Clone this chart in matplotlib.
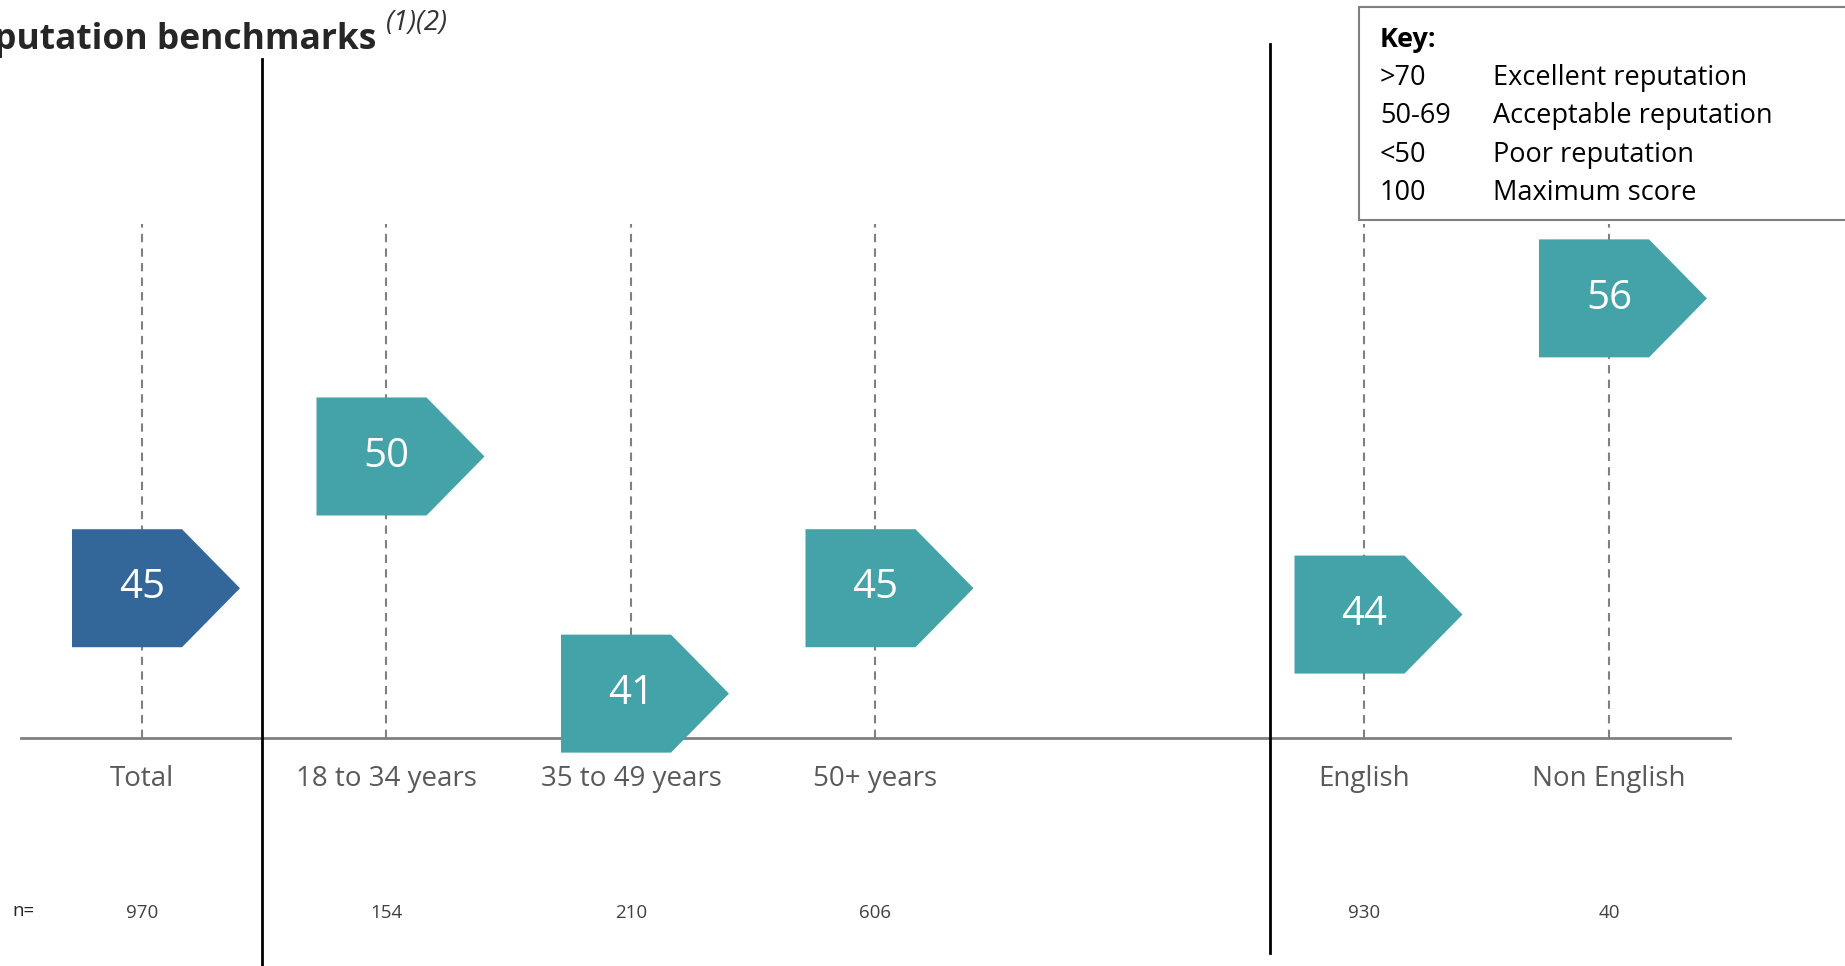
import matplotlib
matplotlib.use('Agg')
import matplotlib.pyplot as plt
from matplotlib.patches import Polygon, Rectangle

plt.rcParams['font.family'] = ['Open Sans', 'DejaVu Sans']

# reputation scores by segment
categories = ['Total', '18 to 34 years', '35 to 49 years', '50+ years', 'English', 'Non English']
scores = [45, 50, 41, 45, 44, 56]
sample_sizes = [970, 154, 210, 606, 930, 40]

key_ranges = ['>70', '50-69', '<50', '100']
key_labels = ['Excellent reputation', 'Acceptable reputation', 'Poor reputation', 'Maximum score']

# layout: slot index of each segment (gap between age and language groups)
slots = [0, 1, 2, 3, 5, 6]
box_colors = ['#336699'] + ['#43A3A8'] * 5

W, H = 1845, 966
X0, DX = 142.0, 244.5          # pixel of slot 0, pixels per slot
Y_MID, V_MID, DY = 540.0, 46.83, 26.35   # pixel of V_MID, pixels per point


def px_x(px):
    return (px - X0) / DX


def px_y(py):
    return V_MID + (Y_MID - py) / DY


def fx(px):
    return px / W


def fy(py):
    return 1 - py / H


fig = plt.figure(figsize=(W / 100, H / 100), dpi=100)
ax = fig.add_axes([0, 0, 1, 1])
ax.set_xlim(px_x(0), px_x(W))
ax.set_ylim(px_y(H), px_y(0))
ax.axis('off')

base = px_y(738)
top = px_y(224)

# baseline and dashed guides
ax.plot([px_x(21), px_x(1730)], [base, base], color='#808080', lw=2, zorder=1)
for s in slots:
    ax.plot([s, s], [base, top], color='#808080', lw=1.5,
            linestyle=(0, (4, 3)), zorder=1)

# group separators
ax.plot([px_x(262), px_x(262)], [px_y(59), px_y(970)], color='black', lw=2, zorder=1)
ax.plot([px_x(1270), px_x(1270)], [px_y(44), px_y(953)], color='black', lw=2, zorder=1)

# arrow-shaped score boxes
left, right, tip = 70 / DX, 40 / DX, 98 / DX
half = 59 / DY
for s, v, c in zip(slots, scores, box_colors):
    pts = [(s - left, v - half), (s + right, v - half), (s + tip, v),
           (s + right, v + half), (s - left, v + half)]
    ax.add_patch(Polygon(pts, closed=True, facecolor=c, edgecolor='none', zorder=3))
    ax.text(s, v, str(v), ha='center', va='center', color='white',
            fontsize=29, zorder=4)

# category labels and sample sizes
for s, cat, n in zip(slots, categories, sample_sizes):
    ax.text(s, px_y(779), cat, ha='center', va='center', color='#595959', fontsize=20)
    ax.text(s, px_y(913), str(n), ha='center', va='center', color='#404040', fontsize=13.5)
fig.text(fx(12), fy(911), 'n=', ha='left', va='center', color='#262626', fontsize=13.5)

# title (runs off the left edge of the page)
fig.text(fx(376), fy(49), 'Reputation benchmarks', ha='right', va='baseline',
         fontsize=25.5, fontweight='bold', color='#262626')
fig.text(fx(386), fy(30), '(1)(2)', ha='left', va='baseline',
         fontsize=20, fontstyle='italic', color='#333333')

# key box
fig.patches.append(Rectangle((fx(1359), fy(220)), fx(1900) - fx(1359), fy(7) - fy(220),
                             transform=fig.transFigure, facecolor='white',
                             edgecolor='#7f7f7f', lw=1.5, zorder=5))
fig.text(fx(1380), fy(40), 'Key:', ha='left', va='center', fontsize=19.5,
         fontweight='bold', color='black', zorder=6)
for i, (r, lab) in enumerate(zip(key_ranges, key_labels)):
    y = [78, 116, 155, 193][i]
    fig.text(fx(1380), fy(y), r, ha='left', va='center', fontsize=19.5, color='black', zorder=6)
    fig.text(fx(1493), fy(y), lab, ha='left', va='center', fontsize=19.5, color='black', zorder=6)

fig.savefig('out.png', dpi=100)
